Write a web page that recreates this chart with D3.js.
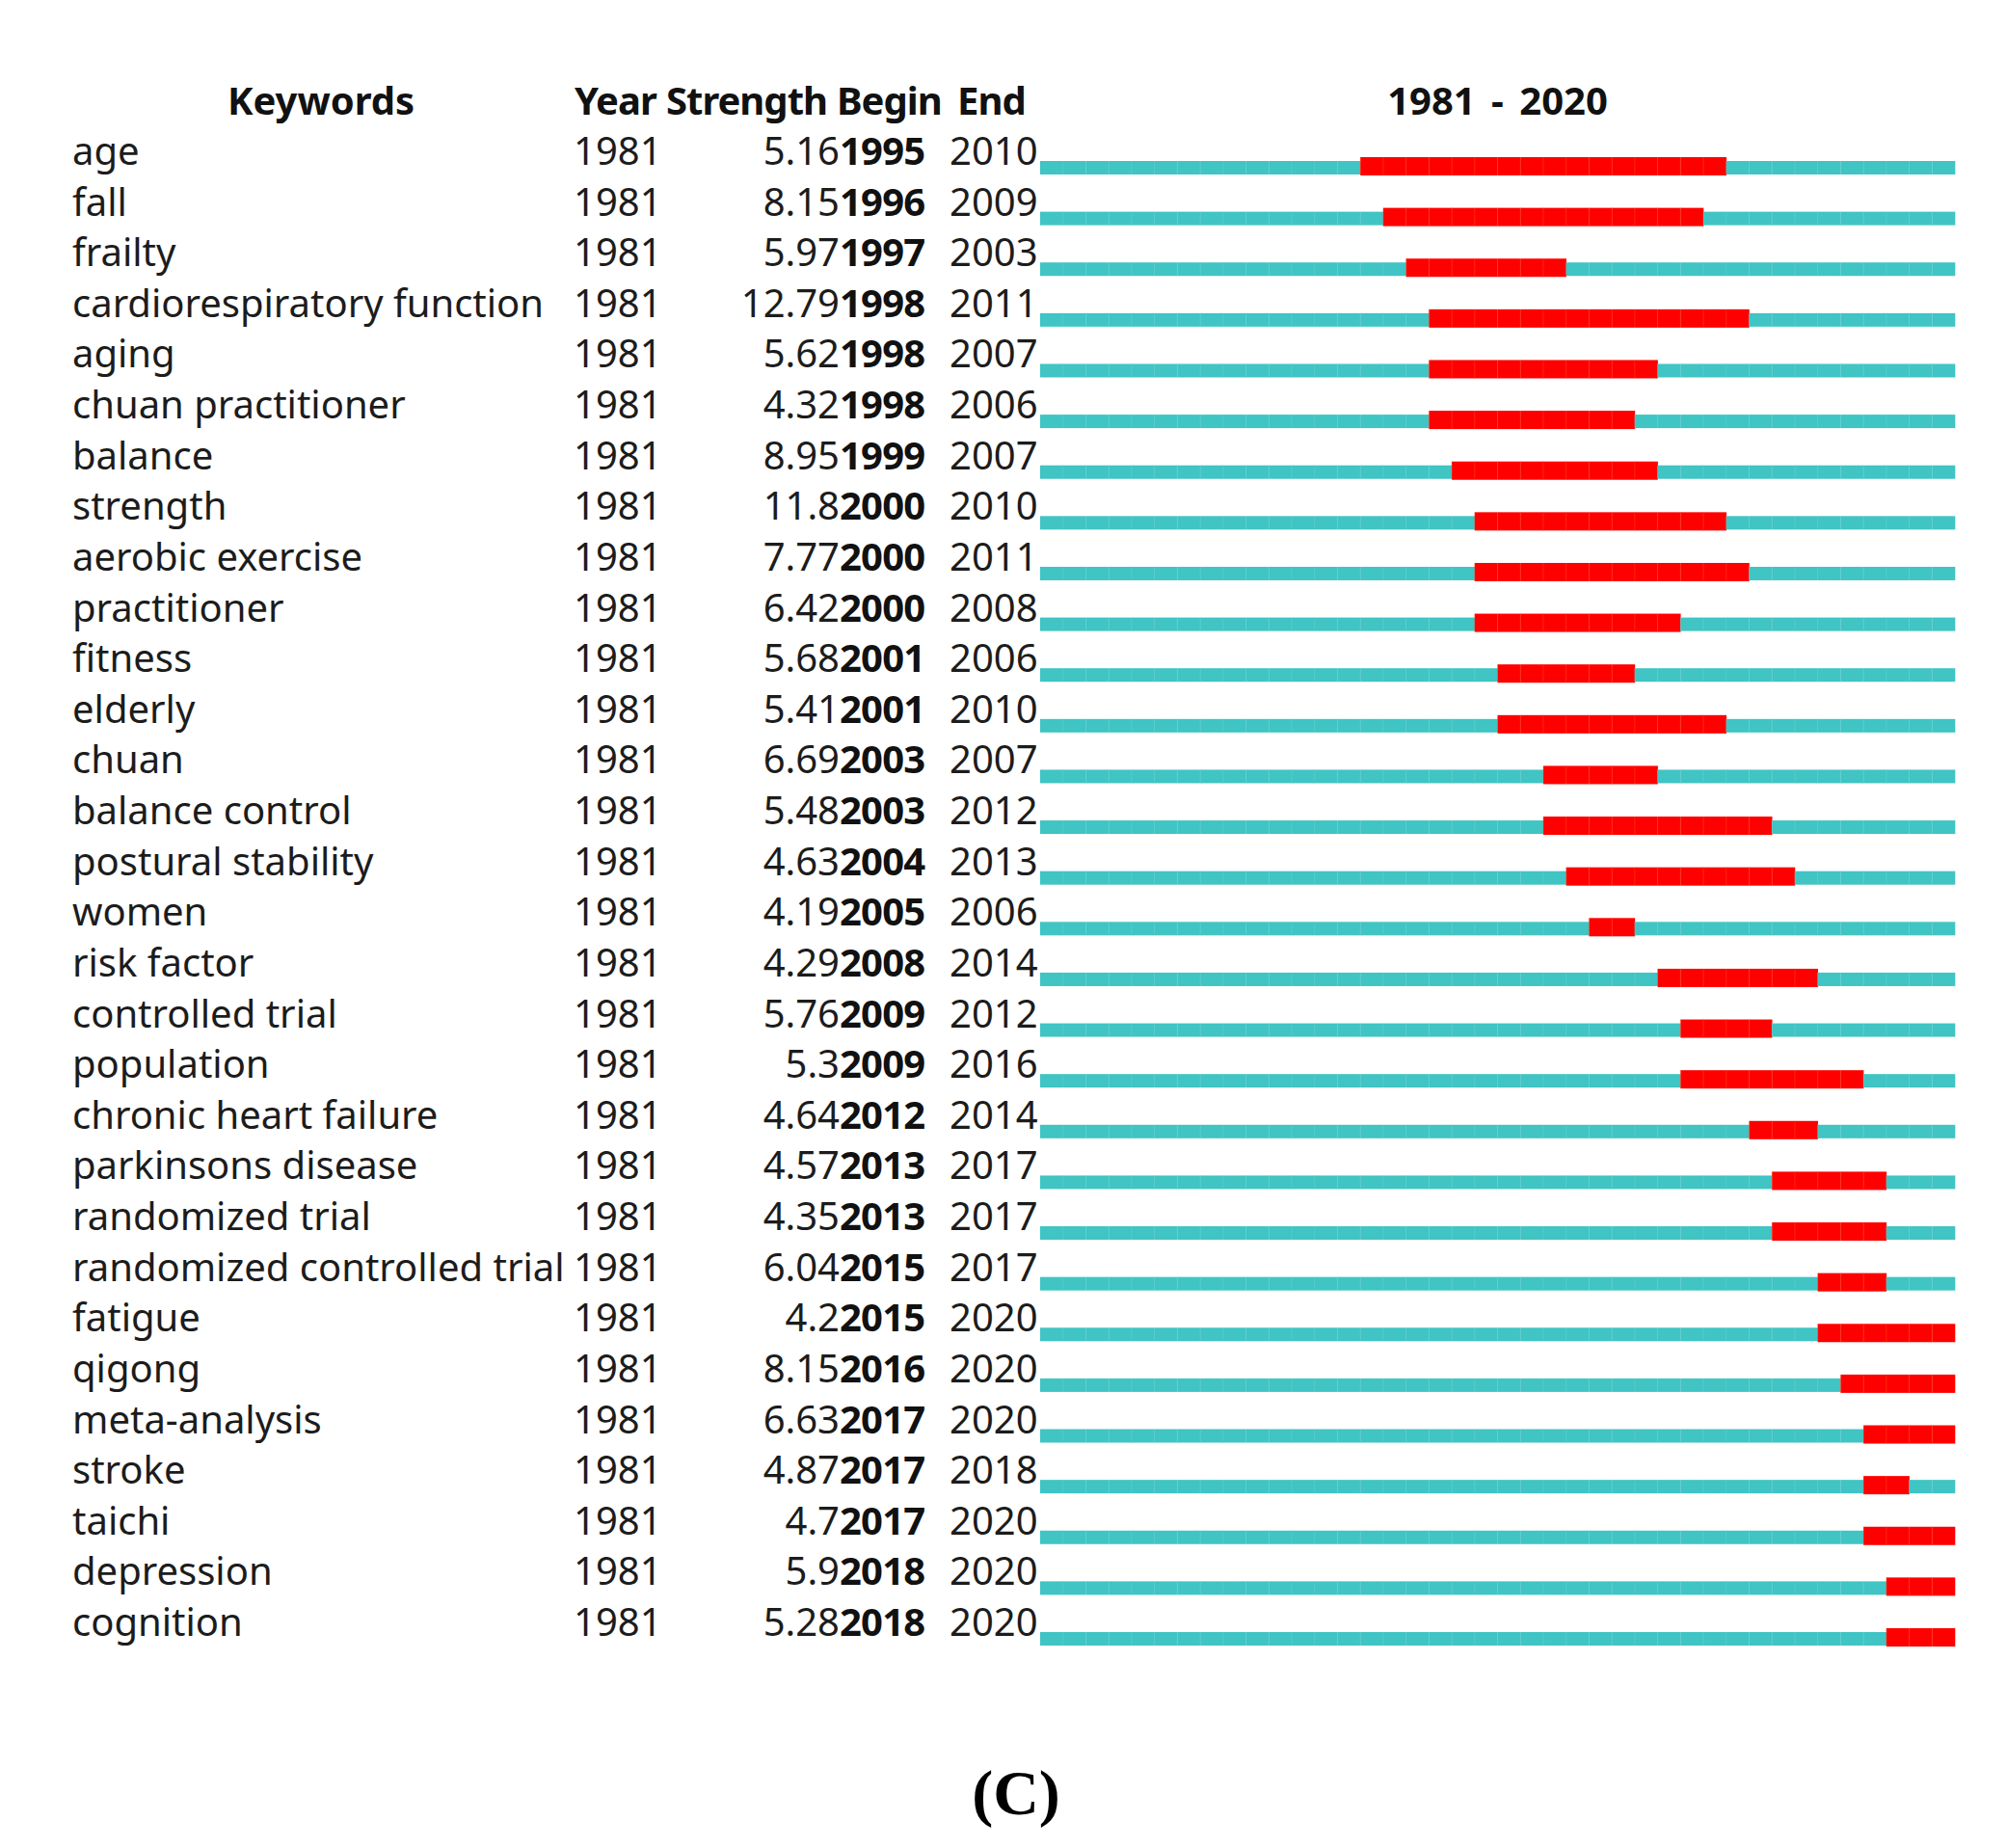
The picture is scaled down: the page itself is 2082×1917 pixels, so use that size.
<!DOCTYPE html>
<html>
<head>
<meta charset="utf-8">
<script src="https://cdn.jsdelivr.net/npm/d3@7"></script>
<style>
  html, body { margin: 0; padding: 0; background: #fff; }
  svg text { font-family: "Noto Sans", "Open Sans", sans-serif; fill: #1c1c1c; }
  .hd { font-weight: bold; font-size: 40px; fill: #111; }
  .cell { font-size: 40px; }
  .bold { font-weight: bold; fill: #111; }
  .cap { font-family: "Liberation Serif", "DejaVu Serif", serif; font-weight: bold; font-size: 66px; fill: #000; }
</style>
</head>
<body>
<svg id="chart" width="2082" height="1917"></svg>
<script>
const keywords = ['age', 'fall', 'frailty', 'cardiorespiratory function', 'aging', 'chuan practitioner',
  'balance', 'strength', 'aerobic exercise', 'practitioner', 'fitness', 'elderly', 'chuan',
  'balance control', 'postural stability', 'women', 'risk factor', 'controlled trial', 'population',
  'chronic heart failure', 'parkinsons disease', 'randomized trial', 'randomized controlled trial',
  'fatigue', 'qigong', 'meta-analysis', 'stroke', 'taichi', 'depression', 'cognition'];
const years = keywords.map(() => 1981);
const strengths = [5.16, 8.15, 5.97, 12.79, 5.62, 4.32, 8.95, 11.8, 7.77, 6.42, 5.68, 5.41, 6.69,
  5.48, 4.63, 4.19, 4.29, 5.76, 5.3, 4.64, 4.57, 4.35, 6.04, 4.2, 8.15, 6.63, 4.87, 4.7, 5.9, 5.28];
const begins = [1995, 1996, 1997, 1998, 1998, 1998, 1999, 2000, 2000, 2000, 2001, 2001, 2003,
  2003, 2004, 2005, 2008, 2009, 2009, 2012, 2013, 2013, 2015, 2015, 2016, 2017, 2017, 2017, 2018, 2018];
const ends = [2010, 2009, 2003, 2011, 2007, 2006, 2007, 2010, 2011, 2008, 2006, 2010, 2007,
  2012, 2013, 2006, 2014, 2012, 2016, 2014, 2017, 2017, 2017, 2020, 2020, 2020, 2018, 2020, 2020, 2020];
const firstYear = 1981;
const lastYear = 2020;

const rows = keywords.map((k, i) => ({
  k, year: years[i], s: strengths[i], b: begins[i], e: ends[i],
}));
const allYears = d3.range(firstYear, lastYear + 1);

const svg = d3.select('#chart');
const y = d3.scalePoint().domain(keywords).range([171, 1697]);
const x = d3.scaleLinear().domain([firstYear, lastYear + 1]).range([1079, 2028]);

const TEAL = '#40c4c4';
const RED = '#ff0000';

// headers
const hd = svg.append('g');
hd.append('text').attr('class', 'hd').attr('x', 333).attr('y', 119).attr('text-anchor', 'middle').text('Keywords');
hd.append('text').attr('class', 'hd').attr('x', 596).attr('y', 119).attr('letter-spacing', -1).text('Year');
hd.append('text').attr('class', 'hd').attr('x', 691).attr('y', 119).attr('letter-spacing', -1).text('Strength');
hd.append('text').attr('class', 'hd').attr('x', 868).attr('y', 119).attr('letter-spacing', -1).text('Begin');
hd.append('text').attr('class', 'hd').attr('x', 993).attr('y', 119).attr('letter-spacing', -1).text('End');
hd.append('text').attr('class', 'hd').attr('x', (x.range()[0] + x.range()[1]) / 2).attr('y', 119)
  .attr('text-anchor', 'middle').attr('word-spacing', 6).text(`${firstYear} - ${lastYear}`);

// table rows
const row = svg.append('g').selectAll('g').data(rows).join('g')
  .attr('transform', (d) => `translate(0,${y(d.k)})`);
row.append('text').attr('class', 'cell').attr('x', 75).text((d) => d.k);
row.append('text').attr('class', 'cell').attr('x', 595).text((d) => d.year);
row.append('text').attr('class', 'cell').attr('x', 871).attr('text-anchor', 'end').text((d) => String(d.s));
row.append('text').attr('class', 'cell bold').attr('x', 871).attr('letter-spacing', -0.8).text((d) => d.b);
row.append('text').attr('class', 'cell').attr('x', 985).text((d) => d.e);

// timeline bars, one cell per year
row.each(function drawBar(d) {
  const g = d3.select(this);
  const hot = (yr) => yr >= d.b && yr <= d.e;
  g.selectAll('rect.yr').data(allYears).join('rect')
    .attr('class', 'yr')
    .attr('x', (yr) => x(yr))
    .attr('width', (yr) => x(yr + 1) - x(yr) + 0.3)
    .attr('y', (yr) => (hot(yr) ? -8 : -4))
    .attr('height', (yr) => (hot(yr) ? 19 : 14))
    .attr('fill', (yr) => (hot(yr) ? RED : TEAL));
  // faint year dividers
  g.selectAll('line.dv').data(allYears.slice(1)).join('line')
    .attr('class', 'dv')
    .attr('x1', (yr) => x(yr)).attr('x2', (yr) => x(yr))
    .attr('y1', (yr) => (hot(yr) ? -8 : -4))
    .attr('y2', (yr) => (hot(yr) ? 11 : 10))
    .attr('stroke', (yr) => (hot(yr) ? '#ff7a2a' : '#8adcdc'))
    .attr('stroke-width', 1)
    .attr('opacity', 0.3);
});

// caption
svg.append('text').attr('class', 'cap').attr('x', 1054).attr('y', 1882).attr('text-anchor', 'middle').text('(C)');
</script>
</body>
</html>
